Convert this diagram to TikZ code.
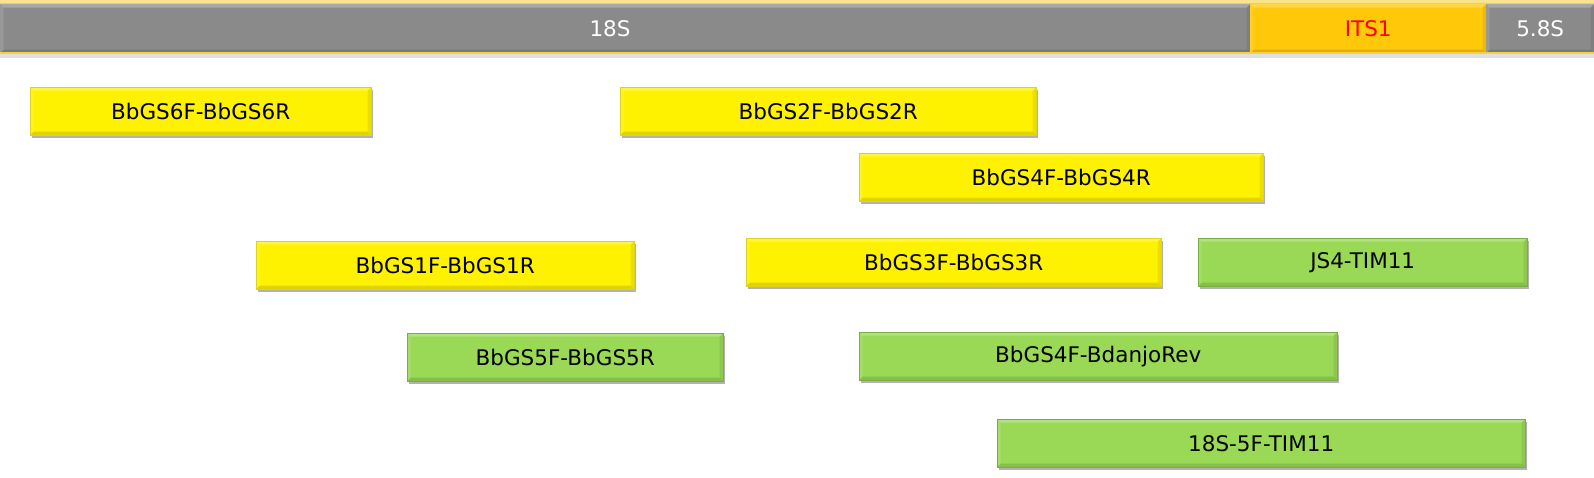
\documentclass[tikz,border=0pt]{standalone}
\usepackage{fontspec}
\setmainfont{DejaVu Sans}
\usetikzlibrary{shadows}
\tikzset{
  bevel/.style={path picture={
    \fill[white,opacity=0.25] (path picture bounding box.north west) -- (path picture bounding box.north east) -- ([shift={(-3.5pt,-3.5pt)}]path picture bounding box.north east) -- ([shift={(3.5pt,-3.5pt)}]path picture bounding box.north west) -- cycle;
    \fill[white,opacity=0.12] (path picture bounding box.north west) -- ([shift={(3.5pt,-3.5pt)}]path picture bounding box.north west) -- ([shift={(3.5pt,3.5pt)}]path picture bounding box.south west) -- (path picture bounding box.south west) -- cycle;
    \fill[black,opacity=0.12] (path picture bounding box.south west) -- (path picture bounding box.south east) -- ([shift={(-3.5pt,3.5pt)}]path picture bounding box.south east) -- ([shift={(3.5pt,3.5pt)}]path picture bounding box.south west) -- cycle;
    \fill[black,opacity=0.08] (path picture bounding box.north east) -- ([shift={(-3.5pt,-3.5pt)}]path picture bounding box.north east) -- ([shift={(-3.5pt,3.5pt)}]path picture bounding box.south east) -- (path picture bounding box.south east) -- cycle;
  }},
  primer/.style={rectangle, inner sep=0pt, minimum height=48pt, font=\fontsize{21.5}{24}\selectfont, text=black, bevel,
    drop shadow={opacity=0.3, shadow xshift=2pt, shadow yshift=-3pt, fill=black}},
  yprimer/.style={primer, fill=yellow, draw=yellow!85!black, line width=0.4pt},
  gprimer/.style={primer, fill=gbox, draw=gbox!80!black, line width=0.4pt},
  region/.style={rectangle, inner sep=0pt, minimum height=49pt, font=\fontsize{21.5}{24}\selectfont, bevel},
}
\definecolor{gbox}{HTML}{99D955}
\definecolor{gray18}{HTML}{8A8A8A}
\definecolor{its}{HTML}{FFC90A}
\definecolor{gold}{HTML}{F5D040}
\begin{document}
\begin{tikzpicture}[x=1pt,y=-1pt]
\useasboundingbox (0,0) rectangle (1594,478);
% top bar
\fill[gold!60] (0,0) rectangle (1594,4);
\fill[black,opacity=0.12] (0,53) rectangle (1594,58);
\node[region, fill=gray18, text=white, minimum width=1250pt, anchor=north west] (s18) at (0,4) {};
\node[region, fill=its, text=red, minimum width=236pt, anchor=north west] (its1) at (1250,4) {ITS1};
\node[region, fill=gray18, text=white, minimum width=108pt, anchor=north west] (s58) at (1486,4) {5.8S};
\node[text=white, font=\fontsize{21.5}{24}\selectfont] (l18) at (610,28.5) {18S};
\draw[gold, line width=1.2pt] (0,53) -- (1594,53);
\draw[gold, line width=1pt] (0,4) -- (1594,4);
% primers
\node[yprimer, minimum width=341pt, anchor=north west] (p6) at (30,87) {BbGS6F-BbGS6R};
\node[yprimer, minimum width=416pt, anchor=north west] (p2) at (620,87) {BbGS2F-BbGS2R};
\node[yprimer, minimum width=404pt, anchor=north west] (p4) at (859,153) {BbGS4F-BbGS4R};
\node[yprimer, minimum width=378pt, anchor=north west] (p1) at (256,241) {BbGS1F-BbGS1R};
\node[yprimer, minimum width=415pt, anchor=north west] (p3) at (746,238) {BbGS3F-BbGS3R};
\node[gprimer, minimum width=329pt, anchor=north west] (js4) at (1198,238) {JS4-TIM11};
\node[gprimer, minimum width=316pt, anchor=north west] (p5) at (407,333) {BbGS5F-BbGS5R};
\node[gprimer, minimum width=478pt, anchor=north west] (p4d) at (859,332) {BbGS4F-BdanjoRev};
\node[gprimer, minimum width=528pt, anchor=north west] (p18) at (997,419) {18S-5F-TIM11};
\end{tikzpicture}
\end{document}
